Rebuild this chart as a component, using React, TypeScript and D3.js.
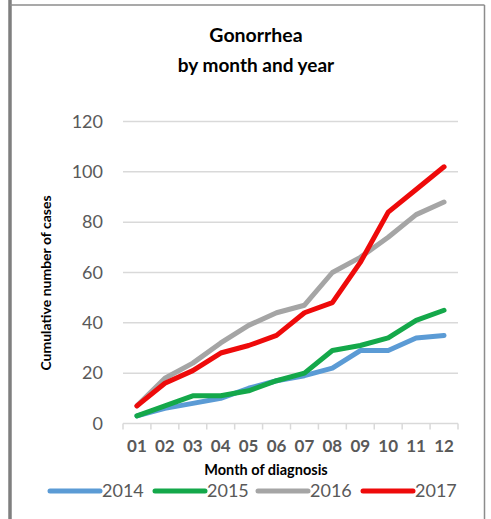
import React from "react";
import * as d3 from "d3";

const months = ["01", "02", "03", "04", "05", "06", "07", "08", "09", "10", "11", "12"];
const years = ["2014", "2015", "2016", "2017"];
const cases2014 = [3, 6, 8, 10, 14, 17, 19, 22, 29, 29, 34, 35];
const cases2015 = [3, 7, 11, 11, 13, 17, 20, 29, 31, 34, 41, 45];
const cases2016 = [7, 18, 24, 32, 39, 44, 47, 60, 66, 74, 83, 88];
const cases2017 = [7, 16, 21, 28, 31, 35, 44, 48, 64, 84, 93, 102];
const yTicks = [0, 20, 40, 60, 80, 100, 120];
const colors = ["#5B9BD5", "#14A84A", "#A5A5A5", "#EE0A0A"];

const W = 491;
const H = 519;
const FONT = "Lato, 'Open Sans', sans-serif";

export default function App() {
  const series = [cases2014, cases2015, cases2016, cases2017];
  const x = d3.scaleBand<string>().domain(months).range([123, 458]);
  const y = d3.scaleLinear().domain([0, 120]).range([423.5, 121.5]);
  const line = d3
    .line<number>()
    .x((_, i) => (x(months[i]) as number) + x.bandwidth() / 2)
    .y((d) => y(d));

  const bounds = [...months.map((m) => x(m) as number), x.range()[1]];
  const legendX = [50, 155, 258, 363];

  return (
    <svg
      width={W}
      height={H}
      style={{ position: "absolute", left: 0, top: 0, background: "#fff" }}
    >
      {/* frame */}
      <line x1={10} x2={10} y1={0} y2={H} stroke="#7f7f7f" strokeWidth={3.5} />
      <line x1={10} x2={484.5} y1={5} y2={5} stroke="#8c8c8c" strokeWidth={1.5} />
      <line x1={484.5} x2={484.5} y1={5} y2={H} stroke="#8c8c8c" strokeWidth={1.5} />

      {/* title */}
      <text x={256} y={42} textAnchor="middle" fontFamily={FONT} fontWeight={700} fontSize={19.5} fill="#000">
        Gonorrhea
      </text>
      <text x={256} y={72} textAnchor="middle" fontFamily={FONT} fontWeight={700} fontSize={19} fill="#000">
        by month and year
      </text>

      {/* gridlines and y labels */}
      {yTicks.map((t) => (
        <g key={t}>
          {t > 0 && (
            <line x1={123} x2={458} y1={y(t)} y2={y(t)} stroke="#D9D9D9" strokeWidth={1.5} />
          )}
          <text
            x={103}
            y={y(t)}
            dy="0.35em"
            textAnchor="end"
            fontFamily={FONT}
            fontSize={18}
            fill="#595959"
          >
            {t}
          </text>
        </g>
      ))}

      {/* x axis */}
      <line x1={123} x2={458} y1={y(0)} y2={y(0)} stroke="#D9D9D9" strokeWidth={1.5} />
      {bounds.map((b, i) => (
        <line key={i} x1={b} x2={b} y1={y(0)} y2={y(0) + 6} stroke="#D9D9D9" strokeWidth={1.5} />
      ))}
      {months.map((m) => (
        <text
          key={m}
          x={(x(m) as number) + x.bandwidth() / 2}
          y={452}
          textAnchor="middle"
          fontFamily={FONT}
          fontWeight={700}
          fontSize={17}
          fill="#595959"
        >
          {m}
        </text>
      ))}
      <text x={266} y={475} textAnchor="middle" fontFamily={FONT} fontWeight={700} fontSize={14.5} fill="#000">
        Month of diagnosis
      </text>
      <text
        transform="translate(51,283) rotate(-90)"
        textAnchor="middle"
        fontFamily={FONT}
        fontWeight={700}
        fontSize={14}
        fill="#000"
      >
        Cumulative number of cases
      </text>

      {/* series lines */}
      {series.map((s, i) => (
        <path
          key={years[i]}
          d={line(s) ?? ""}
          fill="none"
          stroke={colors[i]}
          strokeWidth={5}
          strokeLinejoin="round"
          strokeLinecap="round"
        />
      ))}

      {/* legend */}
      {years.map((yr, i) => (
        <g key={yr}>
          <line
            x1={legendX[i]}
            x2={legendX[i] + 50}
            y1={491}
            y2={491}
            stroke={colors[i]}
            strokeWidth={5}
            strokeLinecap="round"
          />
          <text x={legendX[i] + 52} y={491} dy="0.35em" fontFamily={FONT} fontSize={18} fill="#595959">
            {yr}
          </text>
        </g>
      ))}
    </svg>
  );
}
